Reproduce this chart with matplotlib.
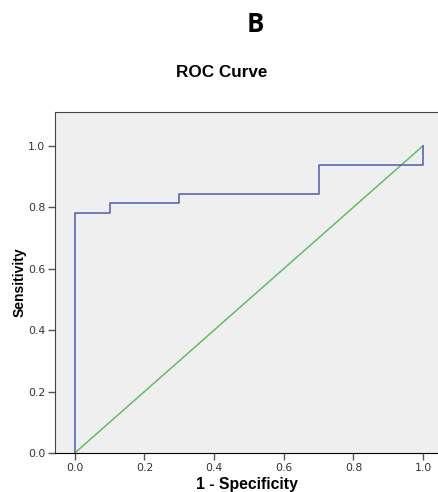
import matplotlib.pyplot as plt

# ROC step curve (1 - specificity, sensitivity)
fpr = [0.0, 0.0, 0.1, 0.1, 0.3, 0.3, 0.7, 0.7, 1.0, 1.0]
tpr = [0.0, 0.781, 0.781, 0.8125, 0.8125, 0.844, 0.844, 0.9375, 0.9375, 1.0]
ref_x = [0.0, 1.0]
ref_y = [0.0, 1.0]
ticks = [0.0, 0.2, 0.4, 0.6, 0.8, 1.0]

fig = plt.figure(figsize=(4.38, 4.92), dpi=100)
ax = fig.add_axes([0.1256, 0.0793, 0.8744, 0.693])
ax.set_facecolor("#efefef")

ax.plot(ref_x, ref_y, color="#5cc25c", lw=1.1)
ax.plot(fpr, tpr, color="#4a5cb0", lw=1.1)

ax.set_xlim(-0.057, 1.043)
ax.set_ylim(0, 1.11)
ax.set_xticks(ticks)
ax.set_yticks(ticks)
ax.set_xticklabels([f"{t:.1f}" for t in ticks])
ax.set_yticklabels([f"{t:.1f}" for t in ticks])
ax.tick_params(length=5, width=1, color="#555555", labelsize=7.8,
               labelcolor="#333333", pad=2)

ax.spines["right"].set_visible(False)
ax.spines["top"].set_color("#444444")
ax.spines["left"].set_color("#444444")
ax.spines["bottom"].set_color("black")

ax.set_xlabel("1 - Specificity", fontsize=11.3, fontweight="bold",
              family="Liberation Sans", labelpad=3)
ax.set_ylabel("Sensitivity", fontsize=10, fontweight="bold",
              family="Liberation Sans", labelpad=1)

fig.text(0.582, 0.95, "B", fontsize=18.5, fontweight="bold",
         family="Open Sans", ha="center", va="center")
fig.text(0.507, 0.852, "ROC Curve", fontsize=12.3, fontweight="bold",
         family="Liberation Sans", ha="center", va="center")

fig.savefig("out.png", dpi=100)
